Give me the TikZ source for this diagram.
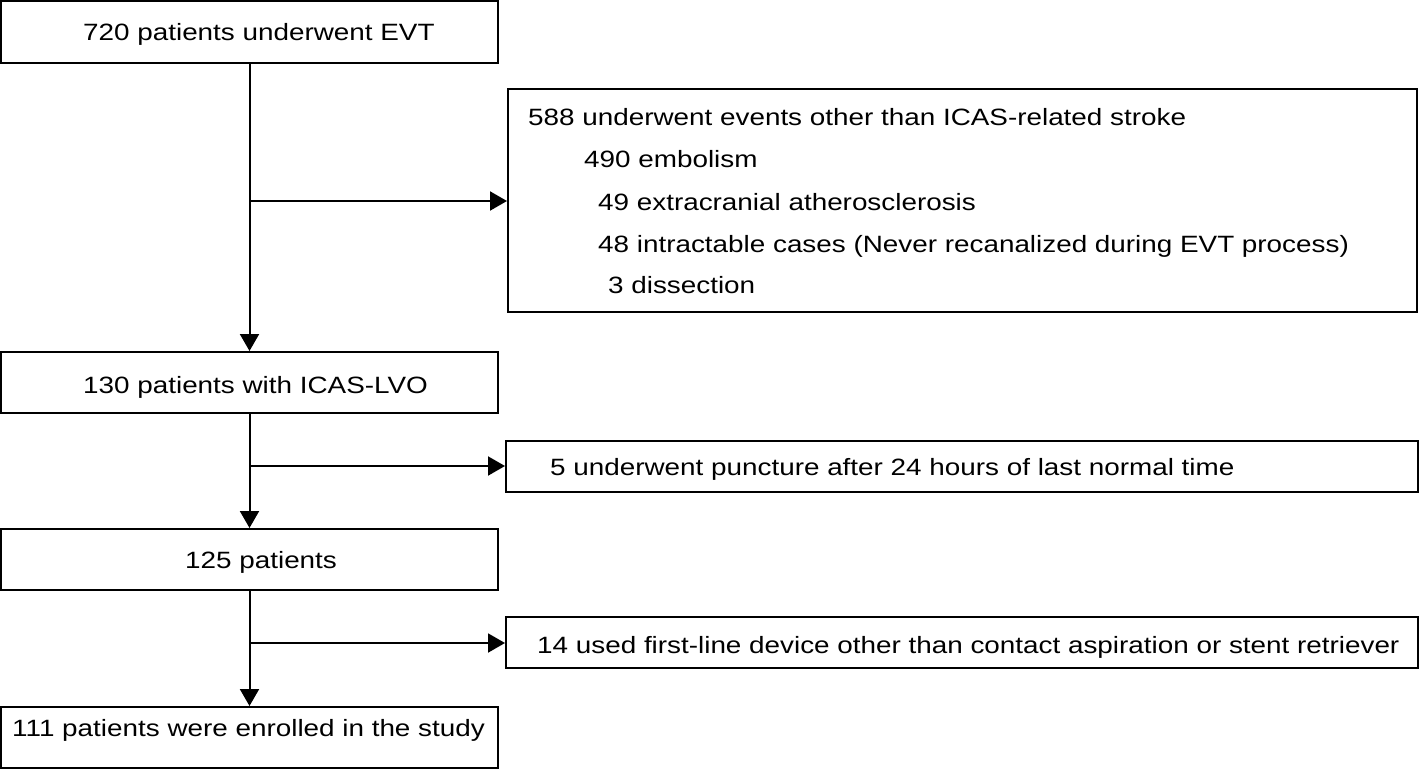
\documentclass[tikz,border=0pt]{standalone}
\usepackage{fontspec}
\setmainfont[FakeStretch=1.18]{Liberation Sans}
\usetikzlibrary{arrows.meta,calc}
\newcommand{\fs}{\fontsize{23.6}{28}\selectfont}
\tikzset{
  box/.style={draw, line width=2pt, inner sep=0pt},
  lab/.style={font=\fs, anchor=base west, inner sep=0pt},
  arr/.style={line width=2pt, -{Triangle[length=17pt,width=19pt]}},
}
\begin{document}
\begin{tikzpicture}[x=1pt,y=-1pt]
\useasboundingbox (0,0) rectangle (1419,769);
% boxes
\node[box, minimum width=497pt, minimum height=62pt] (b1) at (249.5,32) {};
\node[box, minimum width=909pt, minimum height=223pt] (b2) at (962.5,200.5) {};
\node[box, minimum width=497pt, minimum height=61pt] (b3) at (249.5,382.5) {};
\node[box, minimum width=912pt, minimum height=51pt] (b4) at (962,466) {};
\node[box, minimum width=497pt, minimum height=61pt] (b5) at (249.5,559.5) {};
\node[box, minimum width=912pt, minimum height=51pt] (b6) at (962,642.5) {};
\node[box, minimum width=497pt, minimum height=61pt] (b7) at (249.5,737.5) {};
% texts
\node[lab] (t1) at (83,40) {720 patients underwent EVT};
\node[lab] (t2a) at (528,125) {588 underwent events other than ICAS-related stroke};
\node[lab] (t2b) at (584,167) {490 embolism};
\node[lab] (t2c) at (598,210) {49 extracranial atherosclerosis};
\node[lab] (t2d) at (598,252) {48 intractable cases (Never recanalized during EVT process)};
\node[lab] (t2e) at (608,293) {3 dissection};
\node[lab] (t3) at (83,393) {130 patients with ICAS-LVO};
\node[lab] (t4) at (550,475) {5 underwent puncture after 24 hours of last normal time};
\node[lab] (t5) at (185,568) {125 patients};
\node[lab] (t6) at (537,653) {14 used first-line device other than contact aspiration or stent retriever};
\node[lab] (t7) at (12,736) {111 patients were enrolled in the study};
% connectors
\coordinate (j1) at (b1.south |- 0,201);
\coordinate (j2) at (b3.south |- 0,466);
\coordinate (j3) at (b5.south |- 0,643);
\draw[arr] (b1.south) -- (b3.north);
\draw[arr] (j1) -- (j1 -| b2.west);
\draw[arr] (b3.south) -- (b5.north);
\draw[arr] (j2) -- (b4.west);
\draw[arr] (b5.south) -- (b7.north);
\draw[arr] (j3) -- (j3 -| b6.west);
\end{tikzpicture}
\end{document}
